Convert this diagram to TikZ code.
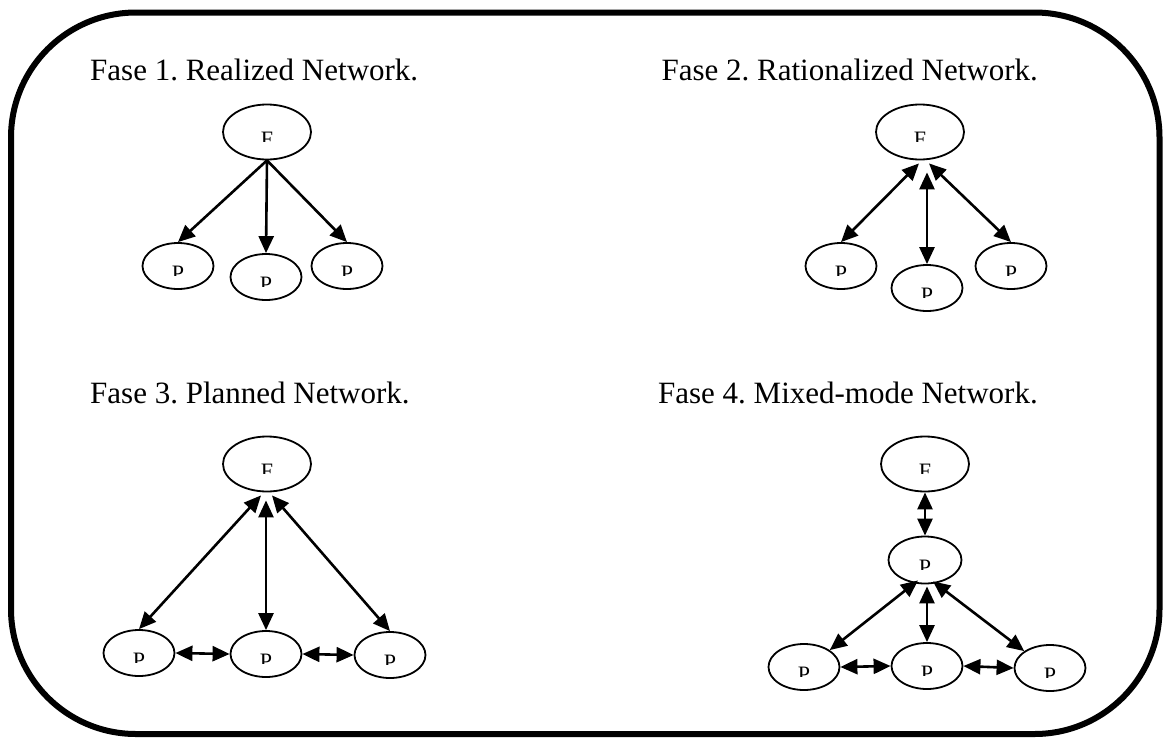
\documentclass[tikz,border=0pt]{standalone}
\usepackage{fontspec}
\setmainfont{Liberation Serif}
\frenchspacing
\usetikzlibrary{shapes.geometric,arrows.meta}
% letter in the upper half of an ellipse, its lower part cut away
\newcommand\halfletter[2]{%
  \begin{scope}
    \clip ([xshift=-14pt,yshift=3pt]#1.center)
      rectangle ([xshift=14pt,yshift=-9pt]#1.center);
    \node[letter] (#1-text) at (#1.center) {#2};
  \end{scope}}
\begin{document}
\begin{tikzpicture}[x=1pt,y=-1pt,
  frame/.style={line width=6pt, rounded corners=125pt},
  title/.style={font=\fontsize{31}{36}\selectfont, inner sep=0pt},
  bubble/.style={ellipse, draw, line width=1.8pt, inner sep=0pt,
    minimum width=71pt, minimum height=46pt},
  big/.style={minimum width=88pt, minimum height=55pt},
  letter/.style={anchor=north, inner sep=0pt, font=\fontsize{22}{22}\selectfont},
  one/.style={line width=2.6pt, -{Triangle[length=17pt,width=15pt]}},
  two/.style={line width=2.6pt, {Triangle[length=17pt,width=15pt]}-{Triangle[length=17pt,width=15pt]}}
]
\useasboundingbox (0,0) rectangle (1163,737);
\draw[frame] (11,12.5) rectangle (1159.5,734);

% titles
\node[title, anchor=base west] (t1) at (90,80) {Fase 1. Realized Network.};
\node[title, anchor=base east] (t2) at (1038,80) {Fase 2. Rationalized Network.};
\node[title, anchor=base west] (t3) at (90,403) {Fase 3. Planned Network.};
\node[title, anchor=base east] (t4) at (1038,403) {Fase 4. Mixed-mode Network.};

% phase 1
\node[bubble, big] (F1) at (267,132) {};
\node[bubble] (P1a) at (178,266) {};
\node[bubble] (P1b) at (266,277) {};
\node[bubble] (P1c) at (347,266) {};
\halfletter{F1}{F}
\halfletter{P1a}{P}
\halfletter{P1b}{P}
\halfletter{P1c}{P}
\draw[one] (F1.south) -- (P1a.north);
\draw[one] (F1.south) -- (P1b.north);
\draw[one] (F1.south) -- (P1c.north);

% phase 2
\node[bubble, big] (F2) at (920,132) {};
\node[bubble] (P2a) at (841,266) {};
\node[bubble] (P2b) at (927,288) {};
\node[bubble] (P2c) at (1011,266) {};
\halfletter{F2}{F}
\halfletter{P2a}{P}
\halfletter{P2b}{P}
\halfletter{P2c}{P}
\draw[two] ([xshift=-1pt,yshift=-3pt]F2.south) -- (P2a.north);
\draw[two, shorten >=12pt] (P2b.north) -- (P2b.north |- F2.south);
\draw[two] ([xshift=9pt,yshift=-3pt]F2.south) -- (P2c.north);

% phase 3
\node[bubble, big] (F3) at (267,464) {};
\node[bubble] (P3a) at (139,653) {};
\node[bubble] (P3b) at (266,654) {};
\node[bubble] (P3c) at (390,655) {};
\halfletter{F3}{F}
\halfletter{P3a}{P}
\halfletter{P3b}{P}
\halfletter{P3c}{P}
\draw[two] ([xshift=-6pt,yshift=-3pt]F3.south) -- (P3a.north);
\draw[two, shorten >=8pt] (P3b.north) -- (P3b.north |- F3.south);
\draw[two] ([xshift=5pt,yshift=-3pt]F3.south) -- (P3c.north);
\draw[two] (P3a.east) -- (P3b.west);
\draw[two] (P3b.east) -- (P3c.west);

% phase 4
\node[bubble, big] (F4) at (925,464) {};
\node[bubble, minimum width=73pt, minimum height=47pt] (Pm) at (925,560) {};
\node[bubble] (Pa) at (804,667) {};
\node[bubble] (Pb) at (927,666) {};
\node[bubble] (Pc) at (1050,668) {};
\halfletter{F4}{F}
\halfletter{Pm}{P}
\halfletter{Pa}{P}
\halfletter{Pb}{P}
\halfletter{Pc}{P}
\draw[two] (F4.south) -- (Pm.north);
\draw[two] ([xshift=-7pt,yshift=4pt]Pm.south) -- (Pa.north east);
\draw[two, shorten <=2pt] (Pb.north |- Pm.south) -- (Pb.north);
\draw[two] ([xshift=8pt,yshift=3pt]Pm.south) -- (Pc.north west);
\draw[two] (Pa.east) -- (Pb.west);
\draw[two] (Pb.east) -- (Pc.west);
\end{tikzpicture}
\end{document}
